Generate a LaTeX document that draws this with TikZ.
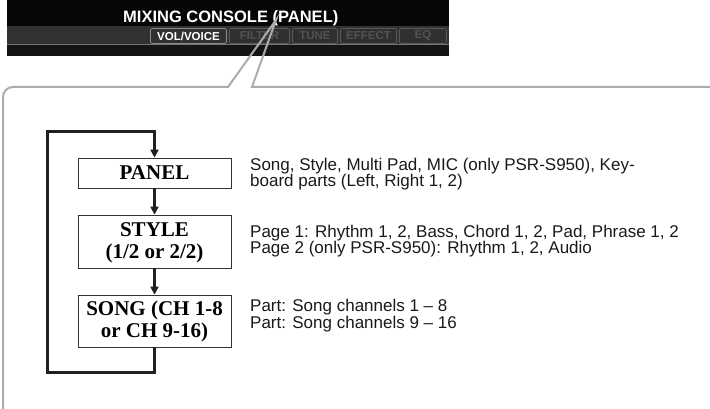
\documentclass[tikz,border=0pt]{standalone}
\usepackage{fontspec}
\setmainfont{Liberation Sans}
\newfontfamily\tnr{Liberation Serif}
\usetikzlibrary{arrows.meta}
\definecolor{framegray}{RGB}{172,172,172}
\definecolor{ink}{RGB}{35,31,32}
\definecolor{scrblack}{RGB}{6,6,6}
\definecolor{scrband}{RGB}{50,50,50}
\definecolor{scrbottom}{RGB}{20,20,20}
\definecolor{tabfill}{RGB}{48,48,48}
\definecolor{tabtext}{RGB}{82,82,82}
\tikzset{
  box/.style={draw=black!80, line width=0.8pt, fill=white, minimum width=153pt,
    align=center, inner sep=0pt, font=\tnr\bfseries\fontsize{21}{22}\selectfont},
  flow/.style={draw=ink, line width=3pt, line join=miter},
  tipped/.style={-{Triangle[length=8pt,width=8pt]}},
  desc/.style={anchor=base west, align=left, inner sep=0pt,
    font=\fontsize{17}{16.5}\selectfont, text=black!90},
  callout/.style={draw=framegray, line width=2pt, line join=miter},
  tabon/.style={draw=black!45, fill=tabfill, rounded corners=2pt, line width=0.8pt,
    minimum height=15pt, inner sep=0pt, text=white, font=\bfseries\fontsize{11.5}{12}\selectfont},
  taboff/.style={draw=black!65, fill=tabfill, rounded corners=2pt, line width=0.8pt,
    minimum height=15pt, inner sep=0pt, text=tabtext, font=\bfseries\fontsize{11.5}{12}\selectfont},
  titletext/.style={anchor=base west, inner sep=0pt, text=white,
    font=\bfseries\fontsize{16.5}{18}\selectfont}
}
\begin{document}
\begin{tikzpicture}[x=1pt,y=-1pt]
\useasboundingbox (0,0) rectangle (710,409);
% screenshot of the display
\fill[scrblack] (7,0) rectangle (449,56);
\fill[scrband] (7,26) rectangle (449,44);
\fill[scrbottom] (7,45) rectangle (449,56);
\draw[black!55, line width=1pt] (7,44.5) -- (449,44.5);
\node[titletext] (title) at (123,23) {MIXING CONSOLE (PANEL)};
\node[tabon, minimum width=76pt] (tvol) at (188.5,36) {VOL/VOICE};
\node[taboff, minimum width=60pt] (tfil) at (259.5,36) {FILTER};
\node[taboff, minimum width=45pt] (ttune) at (315,36) {TUNE};
\node[taboff, minimum width=56pt] (teff) at (368.5,36) {EFFECT};
\node[taboff, minimum width=47pt] (teq) at (423,36) {EQ};
% callout frame
\coordinate (tip) at (276,20);
\draw[callout] (3,409) -- (3,97) arc[start angle=180,end angle=270,radius=10]
  -- (228,87) -- (tip) -- (252,87) -- (712,87);
% flow chart
\node[box, minimum height=30pt] (panel) at (154.5,173) {PANEL};
\node[box, minimum height=53pt] (style) at (154.5,241.5) {\rule{0pt}{16pt}STYLE\\(1/2 or 2/2)};
\node[box, minimum height=52pt] (song) at (154.5,321) {\rule{0pt}{16pt}SONG (CH 1-8\\or CH 9-16)};
\draw[flow,tipped] (panel) -- (style);
\draw[flow,tipped] (style) -- (song);
\coordinate (loopbl) at (47,372);
\coordinate (looptl) at (47,132);
\draw[flow,tipped] (song.south) -- (song.south |- loopbl) -- (loopbl) -- (looptl)
  -- (panel.north |- looptl) -- (panel.north);
% descriptions (base anchor = baseline of the last line)
\node[desc] (dpanel) at (250,186.5) {Song, Style, Multi Pad, MIC (only PSR-S950), Key-\\board parts (Left, Right 1, 2)};
\node[desc] (dstyle) at (250,253.5) {Page 1: Rhythm 1, 2, Bass, Chord 1, 2, Pad, Phrase 1, 2\\Page 2 (only PSR-S950): Rhythm 1, 2, Audio};
\node[desc] (dsong) at (250,328) {Part: Song channels 1 – 8\\Part: Song channels 9 – 16};
\end{tikzpicture}
\end{document}
